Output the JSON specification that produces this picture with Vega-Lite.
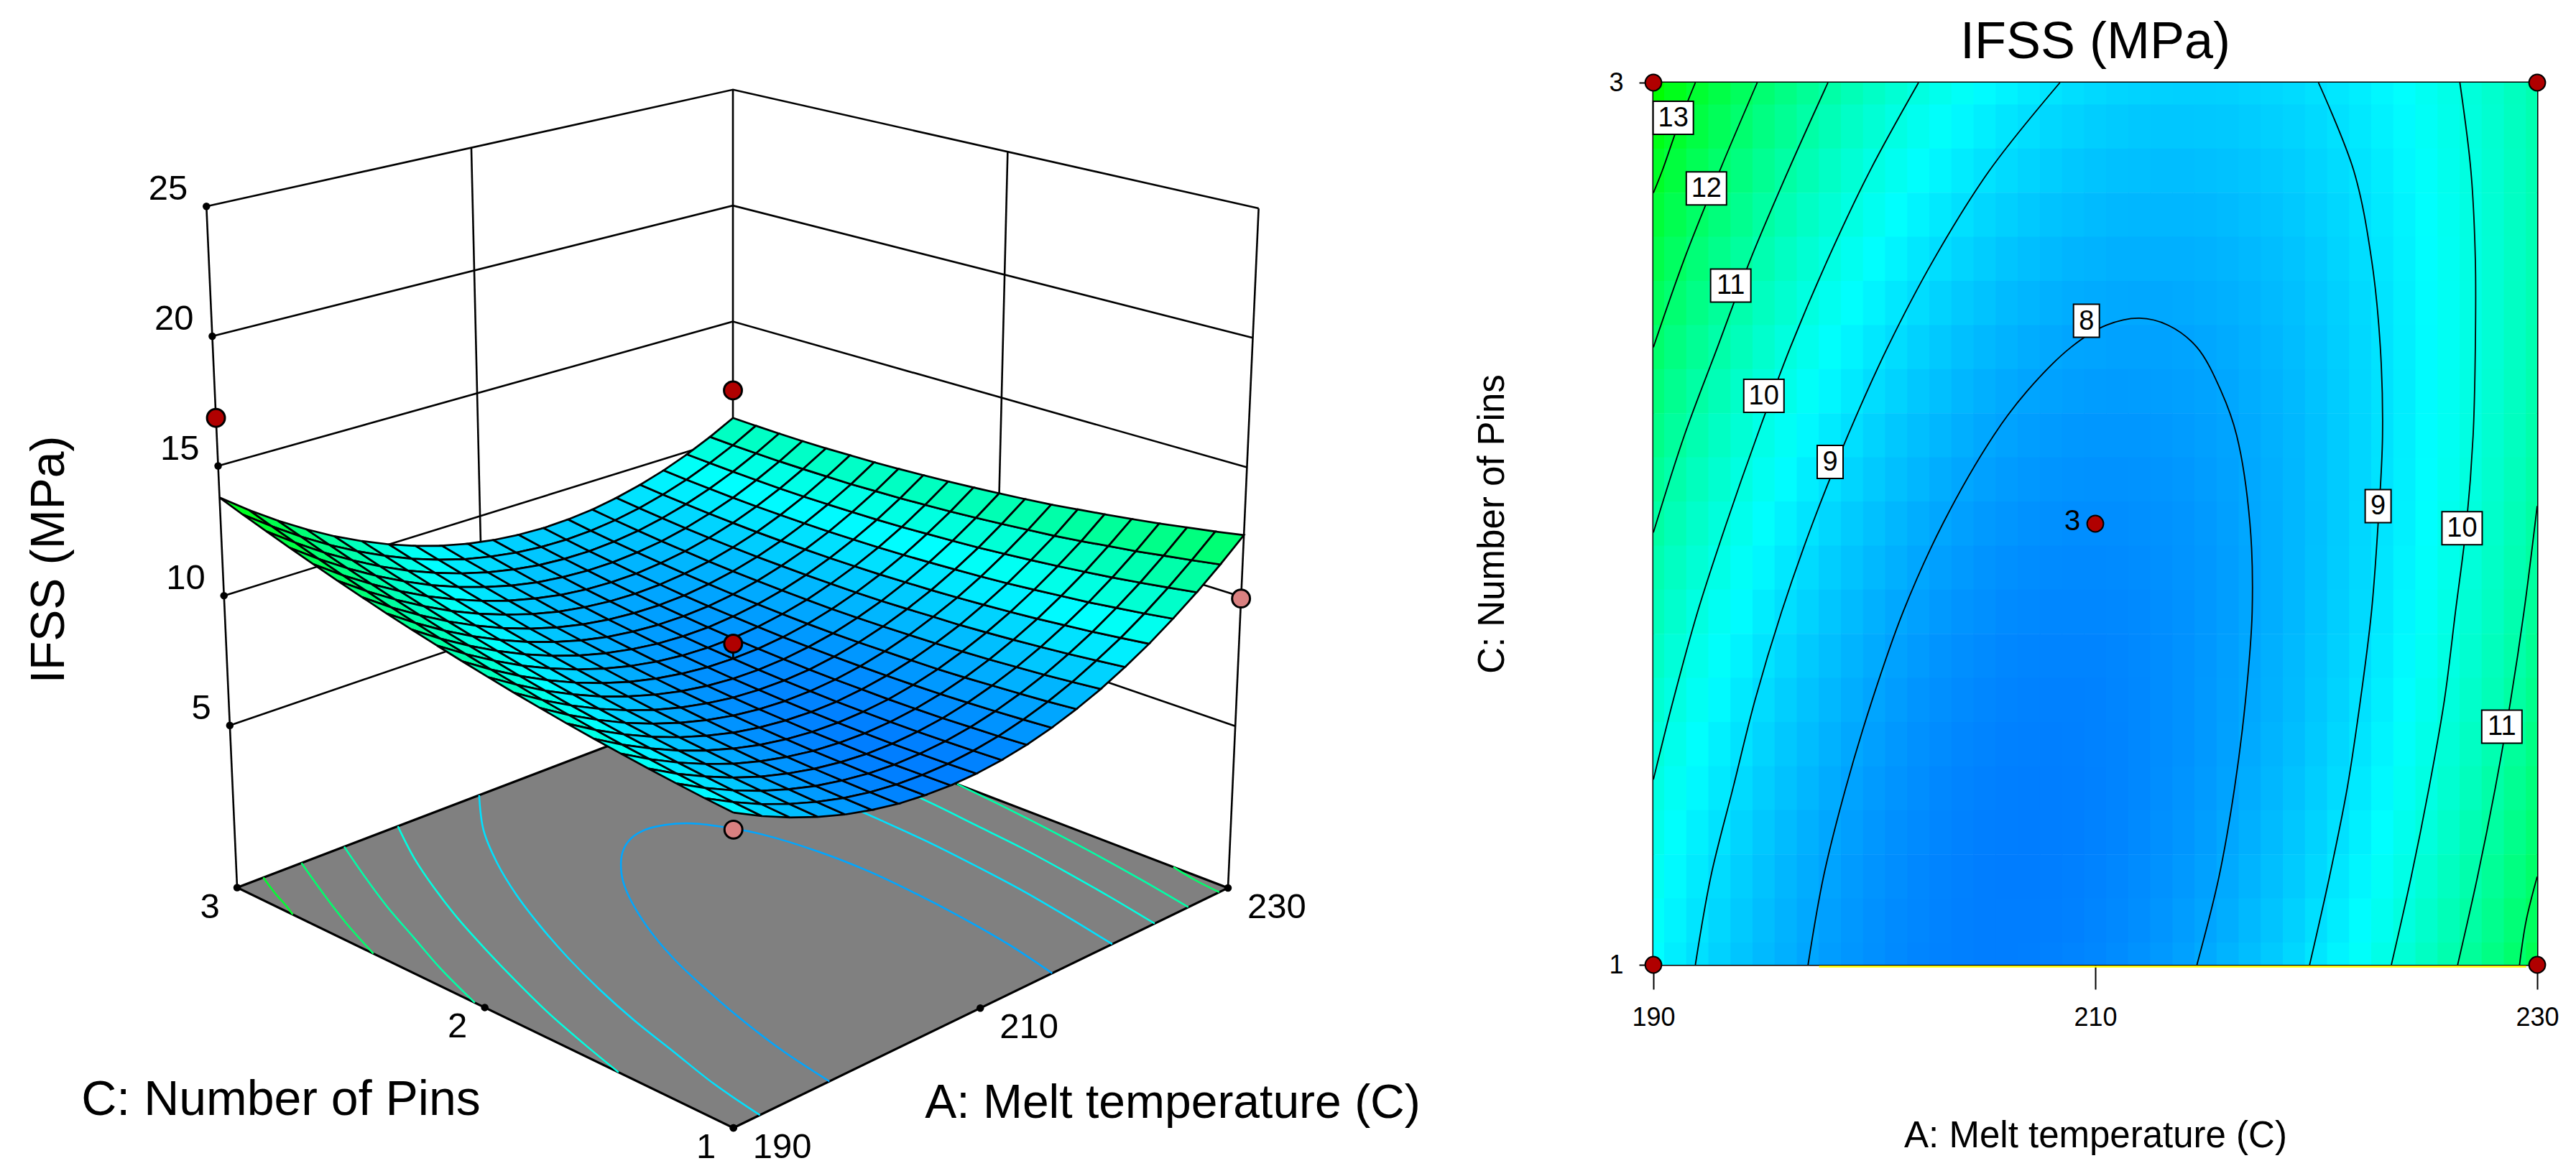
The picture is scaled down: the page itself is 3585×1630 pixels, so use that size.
{"$schema":"https://vega.github.io/schema/vega-lite/v6.json","padding":{"top":21,"left":0,"right":0,"bottom":0},"background":"white","spacing":30,"config":{"font":"Liberation Sans","view":{"stroke":null},"style":{"cell":{"stroke":null}}},
"datasets":{"d":[
{"A":190,"C":3,"z":13.78},{"A":191,"C":3,"z":13.37},{"A":192,"C":3,"z":12.98},{"A":193,"C":3,"z":12.6},{"A":194,"C":3,"z":12.24},{"A":195,"C":3,"z":11.9},{"A":196,"C":3,"z":11.58},{"A":197,"C":3,"z":11.27},{"A":198,"C":3,"z":10.98},{"A":199,"C":3,"z":10.71},{"A":200,"C":3,"z":10.46},{"A":201,"C":3,"z":10.22},{"A":202,"C":3,"z":10},{"A":203,"C":3,"z":9.8},{"A":204,"C":3,"z":9.61},{"A":205,"C":3,"z":9.44},{"A":206,"C":3,"z":9.29},{"A":207,"C":3,"z":9.16},{"A":208,"C":3,"z":9.04},{"A":209,"C":3,"z":8.94},{"A":210,"C":3,"z":8.86},{"A":211,"C":3,"z":8.8},{"A":212,"C":3,"z":8.75},{"A":213,"C":3,"z":8.72},{"A":214,"C":3,"z":8.7},{"A":215,"C":3,"z":8.71},{"A":216,"C":3,"z":8.73},{"A":217,"C":3,"z":8.77},{"A":218,"C":3,"z":8.82},{"A":219,"C":3,"z":8.9},{"A":220,"C":3,"z":8.99},{"A":221,"C":3,"z":9.1},{"A":222,"C":3,"z":9.22},{"A":223,"C":3,"z":9.36},{"A":224,"C":3,"z":9.52},{"A":225,"C":3,"z":9.7},{"A":226,"C":3,"z":9.89},{"A":227,"C":3,"z":10.1},{"A":228,"C":3,"z":10.33},{"A":229,"C":3,"z":10.58},{"A":230,"C":3,"z":10.84},
{"A":190,"C":2.9,"z":13.45},{"A":191,"C":2.9,"z":13.05},{"A":192,"C":2.9,"z":12.67},{"A":193,"C":2.9,"z":12.3},{"A":194,"C":2.9,"z":11.95},{"A":195,"C":2.9,"z":11.61},{"A":196,"C":2.9,"z":11.3},{"A":197,"C":2.9,"z":11},{"A":198,"C":2.9,"z":10.72},{"A":199,"C":2.9,"z":10.45},{"A":200,"C":2.9,"z":10.21},{"A":201,"C":2.9,"z":9.98},{"A":202,"C":2.9,"z":9.76},{"A":203,"C":2.9,"z":9.57},{"A":204,"C":2.9,"z":9.39},{"A":205,"C":2.9,"z":9.23},{"A":206,"C":2.9,"z":9.08},{"A":207,"C":2.9,"z":8.96},{"A":208,"C":2.9,"z":8.85},{"A":209,"C":2.9,"z":8.76},{"A":210,"C":2.9,"z":8.68},{"A":211,"C":2.9,"z":8.62},{"A":212,"C":2.9,"z":8.58},{"A":213,"C":2.9,"z":8.56},{"A":214,"C":2.9,"z":8.55},{"A":215,"C":2.9,"z":8.57},{"A":216,"C":2.9,"z":8.59},{"A":217,"C":2.9,"z":8.64},{"A":218,"C":2.9,"z":8.7},{"A":219,"C":2.9,"z":8.78},{"A":220,"C":2.9,"z":8.88},{"A":221,"C":2.9,"z":9},{"A":222,"C":2.9,"z":9.13},{"A":223,"C":2.9,"z":9.28},{"A":224,"C":2.9,"z":9.44},{"A":225,"C":2.9,"z":9.63},{"A":226,"C":2.9,"z":9.83},{"A":227,"C":2.9,"z":10.05},{"A":228,"C":2.9,"z":10.28},{"A":229,"C":2.9,"z":10.54},{"A":230,"C":2.9,"z":10.81},
{"A":190,"C":2.8,"z":13.14},{"A":191,"C":2.8,"z":12.75},{"A":192,"C":2.8,"z":12.37},{"A":193,"C":2.8,"z":12.01},{"A":194,"C":2.8,"z":11.66},{"A":195,"C":2.8,"z":11.34},{"A":196,"C":2.8,"z":11.03},{"A":197,"C":2.8,"z":10.74},{"A":198,"C":2.8,"z":10.46},{"A":199,"C":2.8,"z":10.2},{"A":200,"C":2.8,"z":9.96},{"A":201,"C":2.8,"z":9.74},{"A":202,"C":2.8,"z":9.54},{"A":203,"C":2.8,"z":9.35},{"A":204,"C":2.8,"z":9.18},{"A":205,"C":2.8,"z":9.02},{"A":206,"C":2.8,"z":8.89},{"A":207,"C":2.8,"z":8.77},{"A":208,"C":2.8,"z":8.67},{"A":209,"C":2.8,"z":8.58},{"A":210,"C":2.8,"z":8.51},{"A":211,"C":2.8,"z":8.46},{"A":212,"C":2.8,"z":8.43},{"A":213,"C":2.8,"z":8.41},{"A":214,"C":2.8,"z":8.41},{"A":215,"C":2.8,"z":8.43},{"A":216,"C":2.8,"z":8.47},{"A":217,"C":2.8,"z":8.52},{"A":218,"C":2.8,"z":8.59},{"A":219,"C":2.8,"z":8.68},{"A":220,"C":2.8,"z":8.79},{"A":221,"C":2.8,"z":8.91},{"A":222,"C":2.8,"z":9.05},{"A":223,"C":2.8,"z":9.2},{"A":224,"C":2.8,"z":9.38},{"A":225,"C":2.8,"z":9.57},{"A":226,"C":2.8,"z":9.78},{"A":227,"C":2.8,"z":10},{"A":228,"C":2.8,"z":10.25},{"A":229,"C":2.8,"z":10.51},{"A":230,"C":2.8,"z":10.78},
{"A":190,"C":2.7,"z":12.84},{"A":191,"C":2.7,"z":12.45},{"A":192,"C":2.7,"z":12.08},{"A":193,"C":2.7,"z":11.73},{"A":194,"C":2.7,"z":11.39},{"A":195,"C":2.7,"z":11.07},{"A":196,"C":2.7,"z":10.77},{"A":197,"C":2.7,"z":10.48},{"A":198,"C":2.7,"z":10.22},{"A":199,"C":2.7,"z":9.97},{"A":200,"C":2.7,"z":9.73},{"A":201,"C":2.7,"z":9.52},{"A":202,"C":2.7,"z":9.32},{"A":203,"C":2.7,"z":9.14},{"A":204,"C":2.7,"z":8.98},{"A":205,"C":2.7,"z":8.83},{"A":206,"C":2.7,"z":8.7},{"A":207,"C":2.7,"z":8.59},{"A":208,"C":2.7,"z":8.49},{"A":209,"C":2.7,"z":8.42},{"A":210,"C":2.7,"z":8.36},{"A":211,"C":2.7,"z":8.31},{"A":212,"C":2.7,"z":8.29},{"A":213,"C":2.7,"z":8.28},{"A":214,"C":2.7,"z":8.29},{"A":215,"C":2.7,"z":8.31},{"A":216,"C":2.7,"z":8.36},{"A":217,"C":2.7,"z":8.42},{"A":218,"C":2.7,"z":8.49},{"A":219,"C":2.7,"z":8.59},{"A":220,"C":2.7,"z":8.7},{"A":221,"C":2.7,"z":8.83},{"A":222,"C":2.7,"z":8.98},{"A":223,"C":2.7,"z":9.14},{"A":224,"C":2.7,"z":9.32},{"A":225,"C":2.7,"z":9.52},{"A":226,"C":2.7,"z":9.74},{"A":227,"C":2.7,"z":9.97},{"A":228,"C":2.7,"z":10.22},{"A":229,"C":2.7,"z":10.49},{"A":230,"C":2.7,"z":10.77},
{"A":190,"C":2.6,"z":12.55},{"A":191,"C":2.6,"z":12.16},{"A":192,"C":2.6,"z":11.8},{"A":193,"C":2.6,"z":11.46},{"A":194,"C":2.6,"z":11.13},{"A":195,"C":2.6,"z":10.82},{"A":196,"C":2.6,"z":10.52},{"A":197,"C":2.6,"z":10.24},{"A":198,"C":2.6,"z":9.98},{"A":199,"C":2.6,"z":9.74},{"A":200,"C":2.6,"z":9.52},{"A":201,"C":2.6,"z":9.31},{"A":202,"C":2.6,"z":9.12},{"A":203,"C":2.6,"z":8.94},{"A":204,"C":2.6,"z":8.79},{"A":205,"C":2.6,"z":8.65},{"A":206,"C":2.6,"z":8.53},{"A":207,"C":2.6,"z":8.42},{"A":208,"C":2.6,"z":8.33},{"A":209,"C":2.6,"z":8.26},{"A":210,"C":2.6,"z":8.21},{"A":211,"C":2.6,"z":8.17},{"A":212,"C":2.6,"z":8.16},{"A":213,"C":2.6,"z":8.16},{"A":214,"C":2.6,"z":8.17},{"A":215,"C":2.6,"z":8.2},{"A":216,"C":2.6,"z":8.26},{"A":217,"C":2.6,"z":8.32},{"A":218,"C":2.6,"z":8.41},{"A":219,"C":2.6,"z":8.51},{"A":220,"C":2.6,"z":8.63},{"A":221,"C":2.6,"z":8.77},{"A":222,"C":2.6,"z":8.92},{"A":223,"C":2.6,"z":9.09},{"A":224,"C":2.6,"z":9.28},{"A":225,"C":2.6,"z":9.49},{"A":226,"C":2.6,"z":9.71},{"A":227,"C":2.6,"z":9.95},{"A":228,"C":2.6,"z":10.21},{"A":229,"C":2.6,"z":10.48},{"A":230,"C":2.6,"z":10.77},
{"A":190,"C":2.5,"z":12.27},{"A":191,"C":2.5,"z":11.89},{"A":192,"C":2.5,"z":11.54},{"A":193,"C":2.5,"z":11.2},{"A":194,"C":2.5,"z":10.88},{"A":195,"C":2.5,"z":10.57},{"A":196,"C":2.5,"z":10.29},{"A":197,"C":2.5,"z":10.02},{"A":198,"C":2.5,"z":9.76},{"A":199,"C":2.5,"z":9.53},{"A":200,"C":2.5,"z":9.31},{"A":201,"C":2.5,"z":9.11},{"A":202,"C":2.5,"z":8.93},{"A":203,"C":2.5,"z":8.76},{"A":204,"C":2.5,"z":8.61},{"A":205,"C":2.5,"z":8.48},{"A":206,"C":2.5,"z":8.36},{"A":207,"C":2.5,"z":8.27},{"A":208,"C":2.5,"z":8.19},{"A":209,"C":2.5,"z":8.12},{"A":210,"C":2.5,"z":8.08},{"A":211,"C":2.5,"z":8.05},{"A":212,"C":2.5,"z":8.04},{"A":213,"C":2.5,"z":8.04},{"A":214,"C":2.5,"z":8.07},{"A":215,"C":2.5,"z":8.11},{"A":216,"C":2.5,"z":8.17},{"A":217,"C":2.5,"z":8.24},{"A":218,"C":2.5,"z":8.33},{"A":219,"C":2.5,"z":8.44},{"A":220,"C":2.5,"z":8.57},{"A":221,"C":2.5,"z":8.71},{"A":222,"C":2.5,"z":8.87},{"A":223,"C":2.5,"z":9.05},{"A":224,"C":2.5,"z":9.25},{"A":225,"C":2.5,"z":9.46},{"A":226,"C":2.5,"z":9.69},{"A":227,"C":2.5,"z":9.94},{"A":228,"C":2.5,"z":10.21},{"A":229,"C":2.5,"z":10.49},{"A":230,"C":2.5,"z":10.79},
{"A":190,"C":2.4,"z":12},{"A":191,"C":2.4,"z":11.63},{"A":192,"C":2.4,"z":11.28},{"A":193,"C":2.4,"z":10.95},{"A":194,"C":2.4,"z":10.64},{"A":195,"C":2.4,"z":10.34},{"A":196,"C":2.4,"z":10.06},{"A":197,"C":2.4,"z":9.8},{"A":198,"C":2.4,"z":9.55},{"A":199,"C":2.4,"z":9.32},{"A":200,"C":2.4,"z":9.11},{"A":201,"C":2.4,"z":8.92},{"A":202,"C":2.4,"z":8.74},{"A":203,"C":2.4,"z":8.59},{"A":204,"C":2.4,"z":8.44},{"A":205,"C":2.4,"z":8.32},{"A":206,"C":2.4,"z":8.21},{"A":207,"C":2.4,"z":8.12},{"A":208,"C":2.4,"z":8.05},{"A":209,"C":2.4,"z":7.99},{"A":210,"C":2.4,"z":7.96},{"A":211,"C":2.4,"z":7.93},{"A":212,"C":2.4,"z":7.93},{"A":213,"C":2.4,"z":7.94},{"A":214,"C":2.4,"z":7.97},{"A":215,"C":2.4,"z":8.02},{"A":216,"C":2.4,"z":8.09},{"A":217,"C":2.4,"z":8.17},{"A":218,"C":2.4,"z":8.27},{"A":219,"C":2.4,"z":8.39},{"A":220,"C":2.4,"z":8.52},{"A":221,"C":2.4,"z":8.67},{"A":222,"C":2.4,"z":8.84},{"A":223,"C":2.4,"z":9.03},{"A":224,"C":2.4,"z":9.23},{"A":225,"C":2.4,"z":9.45},{"A":226,"C":2.4,"z":9.69},{"A":227,"C":2.4,"z":9.94},{"A":228,"C":2.4,"z":10.21},{"A":229,"C":2.4,"z":10.5},{"A":230,"C":2.4,"z":10.81},
{"A":190,"C":2.3,"z":11.74},{"A":191,"C":2.3,"z":11.38},{"A":192,"C":2.3,"z":11.04},{"A":193,"C":2.3,"z":10.72},{"A":194,"C":2.3,"z":10.41},{"A":195,"C":2.3,"z":10.12},{"A":196,"C":2.3,"z":9.85},{"A":197,"C":2.3,"z":9.6},{"A":198,"C":2.3,"z":9.36},{"A":199,"C":2.3,"z":9.14},{"A":200,"C":2.3,"z":8.93},{"A":201,"C":2.3,"z":8.75},{"A":202,"C":2.3,"z":8.58},{"A":203,"C":2.3,"z":8.43},{"A":204,"C":2.3,"z":8.29},{"A":205,"C":2.3,"z":8.17},{"A":206,"C":2.3,"z":8.07},{"A":207,"C":2.3,"z":7.99},{"A":208,"C":2.3,"z":7.93},{"A":209,"C":2.3,"z":7.88},{"A":210,"C":2.3,"z":7.85},{"A":211,"C":2.3,"z":7.83},{"A":212,"C":2.3,"z":7.84},{"A":213,"C":2.3,"z":7.86},{"A":214,"C":2.3,"z":7.89},{"A":215,"C":2.3,"z":7.95},{"A":216,"C":2.3,"z":8.02},{"A":217,"C":2.3,"z":8.11},{"A":218,"C":2.3,"z":8.22},{"A":219,"C":2.3,"z":8.34},{"A":220,"C":2.3,"z":8.49},{"A":221,"C":2.3,"z":8.64},{"A":222,"C":2.3,"z":8.82},{"A":223,"C":2.3,"z":9.01},{"A":224,"C":2.3,"z":9.22},{"A":225,"C":2.3,"z":9.45},{"A":226,"C":2.3,"z":9.7},{"A":227,"C":2.3,"z":9.96},{"A":228,"C":2.3,"z":10.24},{"A":229,"C":2.3,"z":10.53},{"A":230,"C":2.3,"z":10.85},
{"A":190,"C":2.2,"z":11.5},{"A":191,"C":2.2,"z":11.15},{"A":192,"C":2.2,"z":10.81},{"A":193,"C":2.2,"z":10.5},{"A":194,"C":2.2,"z":10.2},{"A":195,"C":2.2,"z":9.91},{"A":196,"C":2.2,"z":9.65},{"A":197,"C":2.2,"z":9.4},{"A":198,"C":2.2,"z":9.17},{"A":199,"C":2.2,"z":8.96},{"A":200,"C":2.2,"z":8.76},{"A":201,"C":2.2,"z":8.58},{"A":202,"C":2.2,"z":8.42},{"A":203,"C":2.2,"z":8.28},{"A":204,"C":2.2,"z":8.15},{"A":205,"C":2.2,"z":8.04},{"A":206,"C":2.2,"z":7.95},{"A":207,"C":2.2,"z":7.87},{"A":208,"C":2.2,"z":7.81},{"A":209,"C":2.2,"z":7.77},{"A":210,"C":2.2,"z":7.75},{"A":211,"C":2.2,"z":7.74},{"A":212,"C":2.2,"z":7.75},{"A":213,"C":2.2,"z":7.78},{"A":214,"C":2.2,"z":7.83},{"A":215,"C":2.2,"z":7.89},{"A":216,"C":2.2,"z":7.97},{"A":217,"C":2.2,"z":8.07},{"A":218,"C":2.2,"z":8.18},{"A":219,"C":2.2,"z":8.31},{"A":220,"C":2.2,"z":8.46},{"A":221,"C":2.2,"z":8.62},{"A":222,"C":2.2,"z":8.81},{"A":223,"C":2.2,"z":9.01},{"A":224,"C":2.2,"z":9.23},{"A":225,"C":2.2,"z":9.46},{"A":226,"C":2.2,"z":9.71},{"A":227,"C":2.2,"z":9.98},{"A":228,"C":2.2,"z":10.27},{"A":229,"C":2.2,"z":10.57},{"A":230,"C":2.2,"z":10.9},
{"A":190,"C":2.1,"z":11.27},{"A":191,"C":2.1,"z":10.92},{"A":192,"C":2.1,"z":10.6},{"A":193,"C":2.1,"z":10.29},{"A":194,"C":2.1,"z":10},{"A":195,"C":2.1,"z":9.72},{"A":196,"C":2.1,"z":9.46},{"A":197,"C":2.1,"z":9.22},{"A":198,"C":2.1,"z":9},{"A":199,"C":2.1,"z":8.79},{"A":200,"C":2.1,"z":8.6},{"A":201,"C":2.1,"z":8.43},{"A":202,"C":2.1,"z":8.28},{"A":203,"C":2.1,"z":8.14},{"A":204,"C":2.1,"z":8.02},{"A":205,"C":2.1,"z":7.92},{"A":206,"C":2.1,"z":7.83},{"A":207,"C":2.1,"z":7.76},{"A":208,"C":2.1,"z":7.71},{"A":209,"C":2.1,"z":7.68},{"A":210,"C":2.1,"z":7.66},{"A":211,"C":2.1,"z":7.66},{"A":212,"C":2.1,"z":7.68},{"A":213,"C":2.1,"z":7.72},{"A":214,"C":2.1,"z":7.77},{"A":215,"C":2.1,"z":7.84},{"A":216,"C":2.1,"z":7.93},{"A":217,"C":2.1,"z":8.03},{"A":218,"C":2.1,"z":8.15},{"A":219,"C":2.1,"z":8.29},{"A":220,"C":2.1,"z":8.45},{"A":221,"C":2.1,"z":8.62},{"A":222,"C":2.1,"z":8.81},{"A":223,"C":2.1,"z":9.02},{"A":224,"C":2.1,"z":9.24},{"A":225,"C":2.1,"z":9.49},{"A":226,"C":2.1,"z":9.74},{"A":227,"C":2.1,"z":10.02},{"A":228,"C":2.1,"z":10.32},{"A":229,"C":2.1,"z":10.63},{"A":230,"C":2.1,"z":10.96},
{"A":190,"C":2,"z":11.05},{"A":191,"C":2,"z":10.71},{"A":192,"C":2,"z":10.39},{"A":193,"C":2,"z":10.09},{"A":194,"C":2,"z":9.8},{"A":195,"C":2,"z":9.53},{"A":196,"C":2,"z":9.28},{"A":197,"C":2,"z":9.05},{"A":198,"C":2,"z":8.83},{"A":199,"C":2,"z":8.63},{"A":200,"C":2,"z":8.45},{"A":201,"C":2,"z":8.29},{"A":202,"C":2,"z":8.14},{"A":203,"C":2,"z":8.01},{"A":204,"C":2,"z":7.9},{"A":205,"C":2,"z":7.8},{"A":206,"C":2,"z":7.73},{"A":207,"C":2,"z":7.67},{"A":208,"C":2,"z":7.62},{"A":209,"C":2,"z":7.6},{"A":210,"C":2,"z":7.59},{"A":211,"C":2,"z":7.59},{"A":212,"C":2,"z":7.62},{"A":213,"C":2,"z":7.66},{"A":214,"C":2,"z":7.72},{"A":215,"C":2,"z":7.8},{"A":216,"C":2,"z":7.89},{"A":217,"C":2,"z":8.01},{"A":218,"C":2,"z":8.13},{"A":219,"C":2,"z":8.28},{"A":220,"C":2,"z":8.44},{"A":221,"C":2,"z":8.62},{"A":222,"C":2,"z":8.82},{"A":223,"C":2,"z":9.04},{"A":224,"C":2,"z":9.27},{"A":225,"C":2,"z":9.52},{"A":226,"C":2,"z":9.79},{"A":227,"C":2,"z":10.07},{"A":228,"C":2,"z":10.37},{"A":229,"C":2,"z":10.69},{"A":230,"C":2,"z":11.03},
{"A":190,"C":1.9,"z":10.84},{"A":191,"C":1.9,"z":10.51},{"A":192,"C":1.9,"z":10.2},{"A":193,"C":1.9,"z":9.9},{"A":194,"C":1.9,"z":9.62},{"A":195,"C":1.9,"z":9.36},{"A":196,"C":1.9,"z":9.12},{"A":197,"C":1.9,"z":8.89},{"A":198,"C":1.9,"z":8.68},{"A":199,"C":1.9,"z":8.49},{"A":200,"C":1.9,"z":8.32},{"A":201,"C":1.9,"z":8.16},{"A":202,"C":1.9,"z":8.02},{"A":203,"C":1.9,"z":7.9},{"A":204,"C":1.9,"z":7.79},{"A":205,"C":1.9,"z":7.7},{"A":206,"C":1.9,"z":7.63},{"A":207,"C":1.9,"z":7.58},{"A":208,"C":1.9,"z":7.54},{"A":209,"C":1.9,"z":7.53},{"A":210,"C":1.9,"z":7.52},{"A":211,"C":1.9,"z":7.54},{"A":212,"C":1.9,"z":7.57},{"A":213,"C":1.9,"z":7.62},{"A":214,"C":1.9,"z":7.69},{"A":215,"C":1.9,"z":7.77},{"A":216,"C":1.9,"z":7.87},{"A":217,"C":1.9,"z":7.99},{"A":218,"C":1.9,"z":8.13},{"A":219,"C":1.9,"z":8.28},{"A":220,"C":1.9,"z":8.45},{"A":221,"C":1.9,"z":8.64},{"A":222,"C":1.9,"z":8.85},{"A":223,"C":1.9,"z":9.07},{"A":224,"C":1.9,"z":9.31},{"A":225,"C":1.9,"z":9.57},{"A":226,"C":1.9,"z":9.84},{"A":227,"C":1.9,"z":10.13},{"A":228,"C":1.9,"z":10.44},{"A":229,"C":1.9,"z":10.77},{"A":230,"C":1.9,"z":11.11},
{"A":190,"C":1.8,"z":10.64},{"A":191,"C":1.8,"z":10.32},{"A":192,"C":1.8,"z":10.01},{"A":193,"C":1.8,"z":9.71},{"A":194,"C":1.8,"z":9.45},{"A":195,"C":1.8,"z":9.2},{"A":196,"C":1.8,"z":8.96},{"A":197,"C":1.8,"z":8.75},{"A":198,"C":1.8,"z":8.54},{"A":199,"C":1.8,"z":8.36},{"A":200,"C":1.8,"z":8.19},{"A":201,"C":1.8,"z":8.04},{"A":202,"C":1.8,"z":7.91},{"A":203,"C":1.8,"z":7.79},{"A":204,"C":1.8,"z":7.7},{"A":205,"C":1.8,"z":7.62},{"A":206,"C":1.8,"z":7.55},{"A":207,"C":1.8,"z":7.51},{"A":208,"C":1.8,"z":7.48},{"A":209,"C":1.8,"z":7.47},{"A":210,"C":1.8,"z":7.47},{"A":211,"C":1.8,"z":7.49},{"A":212,"C":1.8,"z":7.53},{"A":213,"C":1.8,"z":7.59},{"A":214,"C":1.8,"z":7.67},{"A":215,"C":1.8,"z":7.76},{"A":216,"C":1.8,"z":7.87},{"A":217,"C":1.8,"z":8},{"A":218,"C":1.8,"z":8.14},{"A":219,"C":1.8,"z":8.3},{"A":220,"C":1.8,"z":8.48},{"A":221,"C":1.8,"z":8.67},{"A":222,"C":1.8,"z":8.88},{"A":223,"C":1.8,"z":9.11},{"A":224,"C":1.8,"z":9.36},{"A":225,"C":1.8,"z":9.62},{"A":226,"C":1.8,"z":9.9},{"A":227,"C":1.8,"z":10.2},{"A":228,"C":1.8,"z":10.52},{"A":229,"C":1.8,"z":10.85},{"A":230,"C":1.8,"z":11.2},
{"A":190,"C":1.7,"z":10.46},{"A":191,"C":1.7,"z":10.14},{"A":192,"C":1.7,"z":9.84},{"A":193,"C":1.7,"z":9.56},{"A":194,"C":1.7,"z":9.3},{"A":195,"C":1.7,"z":9.05},{"A":196,"C":1.7,"z":8.82},{"A":197,"C":1.7,"z":8.61},{"A":198,"C":1.7,"z":8.42},{"A":199,"C":1.7,"z":8.24},{"A":200,"C":1.7,"z":8.08},{"A":201,"C":1.7,"z":7.94},{"A":202,"C":1.7,"z":7.81},{"A":203,"C":1.7,"z":7.7},{"A":204,"C":1.7,"z":7.61},{"A":205,"C":1.7,"z":7.54},{"A":206,"C":1.7,"z":7.48},{"A":207,"C":1.7,"z":7.45},{"A":208,"C":1.7,"z":7.42},{"A":209,"C":1.7,"z":7.42},{"A":210,"C":1.7,"z":7.43},{"A":211,"C":1.7,"z":7.46},{"A":212,"C":1.7,"z":7.51},{"A":213,"C":1.7,"z":7.58},{"A":214,"C":1.7,"z":7.66},{"A":215,"C":1.7,"z":7.76},{"A":216,"C":1.7,"z":7.88},{"A":217,"C":1.7,"z":8.01},{"A":218,"C":1.7,"z":8.16},{"A":219,"C":1.7,"z":8.33},{"A":220,"C":1.7,"z":8.52},{"A":221,"C":1.7,"z":8.71},{"A":222,"C":1.7,"z":8.93},{"A":223,"C":1.7,"z":9.17},{"A":224,"C":1.7,"z":9.42},{"A":225,"C":1.7,"z":9.69},{"A":226,"C":1.7,"z":9.98},{"A":227,"C":1.7,"z":10.28},{"A":228,"C":1.7,"z":10.61},{"A":229,"C":1.7,"z":10.94},{"A":230,"C":1.7,"z":11.3},
{"A":190,"C":1.6,"z":10.28},{"A":191,"C":1.6,"z":9.97},{"A":192,"C":1.6,"z":9.68},{"A":193,"C":1.6,"z":9.41},{"A":194,"C":1.6,"z":9.15},{"A":195,"C":1.6,"z":8.91},{"A":196,"C":1.6,"z":8.69},{"A":197,"C":1.6,"z":8.49},{"A":198,"C":1.6,"z":8.3},{"A":199,"C":1.6,"z":8.13},{"A":200,"C":1.6,"z":7.98},{"A":201,"C":1.6,"z":7.84},{"A":202,"C":1.6,"z":7.72},{"A":203,"C":1.6,"z":7.63},{"A":204,"C":1.6,"z":7.54},{"A":205,"C":1.6,"z":7.48},{"A":206,"C":1.6,"z":7.43},{"A":207,"C":1.6,"z":7.39},{"A":208,"C":1.6,"z":7.38},{"A":209,"C":1.6,"z":7.38},{"A":210,"C":1.6,"z":7.4},{"A":211,"C":1.6,"z":7.44},{"A":212,"C":1.6,"z":7.5},{"A":213,"C":1.6,"z":7.57},{"A":214,"C":1.6,"z":7.66},{"A":215,"C":1.6,"z":7.78},{"A":216,"C":1.6,"z":7.89},{"A":217,"C":1.6,"z":8.03},{"A":218,"C":1.6,"z":8.19},{"A":219,"C":1.6,"z":8.36},{"A":220,"C":1.6,"z":8.55},{"A":221,"C":1.6,"z":8.76},{"A":222,"C":1.6,"z":8.99},{"A":223,"C":1.6,"z":9.23},{"A":224,"C":1.6,"z":9.49},{"A":225,"C":1.6,"z":9.77},{"A":226,"C":1.6,"z":10.07},{"A":227,"C":1.6,"z":10.38},{"A":228,"C":1.6,"z":10.7},{"A":229,"C":1.6,"z":11.05},{"A":230,"C":1.6,"z":11.43},
{"A":190,"C":1.5,"z":10.12},{"A":191,"C":1.5,"z":9.82},{"A":192,"C":1.5,"z":9.53},{"A":193,"C":1.5,"z":9.27},{"A":194,"C":1.5,"z":9.02},{"A":195,"C":1.5,"z":8.79},{"A":196,"C":1.5,"z":8.57},{"A":197,"C":1.5,"z":8.38},{"A":198,"C":1.5,"z":8.2},{"A":199,"C":1.5,"z":8.04},{"A":200,"C":1.5,"z":7.89},{"A":201,"C":1.5,"z":7.76},{"A":202,"C":1.5,"z":7.65},{"A":203,"C":1.5,"z":7.56},{"A":204,"C":1.5,"z":7.48},{"A":205,"C":1.5,"z":7.42},{"A":206,"C":1.5,"z":7.38},{"A":207,"C":1.5,"z":7.36},{"A":208,"C":1.5,"z":7.35},{"A":209,"C":1.5,"z":7.36},{"A":210,"C":1.5,"z":7.39},{"A":211,"C":1.5,"z":7.43},{"A":212,"C":1.5,"z":7.49},{"A":213,"C":1.5,"z":7.57},{"A":214,"C":1.5,"z":7.67},{"A":215,"C":1.5,"z":7.78},{"A":216,"C":1.5,"z":7.91},{"A":217,"C":1.5,"z":8.06},{"A":218,"C":1.5,"z":8.23},{"A":219,"C":1.5,"z":8.41},{"A":220,"C":1.5,"z":8.61},{"A":221,"C":1.5,"z":8.83},{"A":222,"C":1.5,"z":9.06},{"A":223,"C":1.5,"z":9.31},{"A":224,"C":1.5,"z":9.58},{"A":225,"C":1.5,"z":9.87},{"A":226,"C":1.5,"z":10.17},{"A":227,"C":1.5,"z":10.49},{"A":228,"C":1.5,"z":10.82},{"A":229,"C":1.5,"z":11.18},{"A":230,"C":1.5,"z":11.56},
{"A":190,"C":1.4,"z":9.97},{"A":191,"C":1.4,"z":9.67},{"A":192,"C":1.4,"z":9.4},{"A":193,"C":1.4,"z":9.14},{"A":194,"C":1.4,"z":8.9},{"A":195,"C":1.4,"z":8.67},{"A":196,"C":1.4,"z":8.47},{"A":197,"C":1.4,"z":8.28},{"A":198,"C":1.4,"z":8.1},{"A":199,"C":1.4,"z":7.95},{"A":200,"C":1.4,"z":7.81},{"A":201,"C":1.4,"z":7.69},{"A":202,"C":1.4,"z":7.59},{"A":203,"C":1.4,"z":7.5},{"A":204,"C":1.4,"z":7.43},{"A":205,"C":1.4,"z":7.38},{"A":206,"C":1.4,"z":7.35},{"A":207,"C":1.4,"z":7.33},{"A":208,"C":1.4,"z":7.33},{"A":209,"C":1.4,"z":7.35},{"A":210,"C":1.4,"z":7.38},{"A":211,"C":1.4,"z":7.43},{"A":212,"C":1.4,"z":7.5},{"A":213,"C":1.4,"z":7.59},{"A":214,"C":1.4,"z":7.69},{"A":215,"C":1.4,"z":7.82},{"A":216,"C":1.4,"z":7.95},{"A":217,"C":1.4,"z":8.11},{"A":218,"C":1.4,"z":8.28},{"A":219,"C":1.4,"z":8.47},{"A":220,"C":1.4,"z":8.68},{"A":221,"C":1.4,"z":8.9},{"A":222,"C":1.4,"z":9.14},{"A":223,"C":1.4,"z":9.4},{"A":224,"C":1.4,"z":9.68},{"A":225,"C":1.4,"z":9.97},{"A":226,"C":1.4,"z":10.28},{"A":227,"C":1.4,"z":10.61},{"A":228,"C":1.4,"z":10.96},{"A":229,"C":1.4,"z":11.32},{"A":230,"C":1.4,"z":11.7},
{"A":190,"C":1.3,"z":9.83},{"A":191,"C":1.3,"z":9.54},{"A":192,"C":1.3,"z":9.27},{"A":193,"C":1.3,"z":9.02},{"A":194,"C":1.3,"z":8.79},{"A":195,"C":1.3,"z":8.57},{"A":196,"C":1.3,"z":8.37},{"A":197,"C":1.3,"z":8.19},{"A":198,"C":1.3,"z":8.02},{"A":199,"C":1.3,"z":7.88},{"A":200,"C":1.3,"z":7.75},{"A":201,"C":1.3,"z":7.63},{"A":202,"C":1.3,"z":7.54},{"A":203,"C":1.3,"z":7.46},{"A":204,"C":1.3,"z":7.4},{"A":205,"C":1.3,"z":7.35},{"A":206,"C":1.3,"z":7.32},{"A":207,"C":1.3,"z":7.31},{"A":208,"C":1.3,"z":7.32},{"A":209,"C":1.3,"z":7.35},{"A":210,"C":1.3,"z":7.39},{"A":211,"C":1.3,"z":7.45},{"A":212,"C":1.3,"z":7.52},{"A":213,"C":1.3,"z":7.62},{"A":214,"C":1.3,"z":7.73},{"A":215,"C":1.3,"z":7.86},{"A":216,"C":1.3,"z":8.01},{"A":217,"C":1.3,"z":8.17},{"A":218,"C":1.3,"z":8.35},{"A":219,"C":1.3,"z":8.55},{"A":220,"C":1.3,"z":8.76},{"A":221,"C":1.3,"z":8.99},{"A":222,"C":1.3,"z":9.24},{"A":223,"C":1.3,"z":9.5},{"A":224,"C":1.3,"z":9.78},{"A":225,"C":1.3,"z":10.08},{"A":226,"C":1.3,"z":10.4},{"A":227,"C":1.3,"z":10.74},{"A":228,"C":1.3,"z":11.09},{"A":229,"C":1.3,"z":11.46},{"A":230,"C":1.3,"z":11.85},
{"A":190,"C":1.2,"z":9.7},{"A":191,"C":1.2,"z":9.42},{"A":192,"C":1.2,"z":9.16},{"A":193,"C":1.2,"z":8.91},{"A":194,"C":1.2,"z":8.69},{"A":195,"C":1.2,"z":8.48},{"A":196,"C":1.2,"z":8.29},{"A":197,"C":1.2,"z":8.11},{"A":198,"C":1.2,"z":7.96},{"A":199,"C":1.2,"z":7.82},{"A":200,"C":1.2,"z":7.69},{"A":201,"C":1.2,"z":7.59},{"A":202,"C":1.2,"z":7.5},{"A":203,"C":1.2,"z":7.43},{"A":204,"C":1.2,"z":7.37},{"A":205,"C":1.2,"z":7.33},{"A":206,"C":1.2,"z":7.31},{"A":207,"C":1.2,"z":7.31},{"A":208,"C":1.2,"z":7.33},{"A":209,"C":1.2,"z":7.36},{"A":210,"C":1.2,"z":7.41},{"A":211,"C":1.2,"z":7.48},{"A":212,"C":1.2,"z":7.56},{"A":213,"C":1.2,"z":7.66},{"A":214,"C":1.2,"z":7.78},{"A":215,"C":1.2,"z":7.91},{"A":216,"C":1.2,"z":8.07},{"A":217,"C":1.2,"z":8.24},{"A":218,"C":1.2,"z":8.42},{"A":219,"C":1.2,"z":8.63},{"A":220,"C":1.2,"z":8.85},{"A":221,"C":1.2,"z":9.09},{"A":222,"C":1.2,"z":9.34},{"A":223,"C":1.2,"z":9.62},{"A":224,"C":1.2,"z":9.91},{"A":225,"C":1.2,"z":10.22},{"A":226,"C":1.2,"z":10.54},{"A":227,"C":1.2,"z":10.89},{"A":228,"C":1.2,"z":11.25},{"A":229,"C":1.2,"z":11.62},{"A":230,"C":1.2,"z":12.02},
{"A":190,"C":1.1,"z":9.58},{"A":191,"C":1.1,"z":9.31},{"A":192,"C":1.1,"z":9.06},{"A":193,"C":1.1,"z":8.82},{"A":194,"C":1.1,"z":8.6},{"A":195,"C":1.1,"z":8.4},{"A":196,"C":1.1,"z":8.22},{"A":197,"C":1.1,"z":8.05},{"A":198,"C":1.1,"z":7.9},{"A":199,"C":1.1,"z":7.76},{"A":200,"C":1.1,"z":7.65},{"A":201,"C":1.1,"z":7.55},{"A":202,"C":1.1,"z":7.47},{"A":203,"C":1.1,"z":7.41},{"A":204,"C":1.1,"z":7.36},{"A":205,"C":1.1,"z":7.33},{"A":206,"C":1.1,"z":7.32},{"A":207,"C":1.1,"z":7.32},{"A":208,"C":1.1,"z":7.34},{"A":209,"C":1.1,"z":7.38},{"A":210,"C":1.1,"z":7.44},{"A":211,"C":1.1,"z":7.51},{"A":212,"C":1.1,"z":7.6},{"A":213,"C":1.1,"z":7.71},{"A":214,"C":1.1,"z":7.84},{"A":215,"C":1.1,"z":7.98},{"A":216,"C":1.1,"z":8.14},{"A":217,"C":1.1,"z":8.32},{"A":218,"C":1.1,"z":8.51},{"A":219,"C":1.1,"z":8.73},{"A":220,"C":1.1,"z":8.96},{"A":221,"C":1.1,"z":9.2},{"A":222,"C":1.1,"z":9.46},{"A":223,"C":1.1,"z":9.74},{"A":224,"C":1.1,"z":10.04},{"A":225,"C":1.1,"z":10.36},{"A":226,"C":1.1,"z":10.69},{"A":227,"C":1.1,"z":11.04},{"A":228,"C":1.1,"z":11.41},{"A":229,"C":1.1,"z":11.79},{"A":230,"C":1.1,"z":12.19},
{"A":190,"C":1,"z":9.48},{"A":191,"C":1,"z":9.22},{"A":192,"C":1,"z":8.97},{"A":193,"C":1,"z":8.74},{"A":194,"C":1,"z":8.53},{"A":195,"C":1,"z":8.33},{"A":196,"C":1,"z":8.16},{"A":197,"C":1,"z":8},{"A":198,"C":1,"z":7.85},{"A":199,"C":1,"z":7.73},{"A":200,"C":1,"z":7.62},{"A":201,"C":1,"z":7.53},{"A":202,"C":1,"z":7.45},{"A":203,"C":1,"z":7.4},{"A":204,"C":1,"z":7.36},{"A":205,"C":1,"z":7.33},{"A":206,"C":1,"z":7.33},{"A":207,"C":1,"z":7.34},{"A":208,"C":1,"z":7.37},{"A":209,"C":1,"z":7.42},{"A":210,"C":1,"z":7.48},{"A":211,"C":1,"z":7.56},{"A":212,"C":1,"z":7.66},{"A":213,"C":1,"z":7.78},{"A":214,"C":1,"z":7.91},{"A":215,"C":1,"z":8.06},{"A":216,"C":1,"z":8.23},{"A":217,"C":1,"z":8.41},{"A":218,"C":1,"z":8.61},{"A":219,"C":1,"z":8.83},{"A":220,"C":1,"z":9.07},{"A":221,"C":1,"z":9.32},{"A":222,"C":1,"z":9.59},{"A":223,"C":1,"z":9.88},{"A":224,"C":1,"z":10.19},{"A":225,"C":1,"z":10.51},{"A":226,"C":1,"z":10.85},{"A":227,"C":1,"z":11.21},{"A":228,"C":1,"z":11.58},{"A":229,"C":1,"z":11.97},{"A":230,"C":1,"z":12.38},
{"g":"c","id":"8","L":8,"n":1,"A":197,"C":1},{"g":"c","id":"8","L":8,"n":2,"A":197.7,"C":1.2},{"g":"c","id":"8","L":8,"n":3,"A":198.7,"C":1.4},{"g":"c","id":"8","L":8,"n":4,"A":199.9,"C":1.6},{"g":"c","id":"8","L":8,"n":5,"A":201.3,"C":1.8},{"g":"c","id":"8","L":8,"n":6,"A":203.1,"C":2},{"g":"c","id":"8","L":8,"n":7,"A":205.4,"C":2.2},{"g":"c","id":"8","L":8,"n":8,"A":206.9,"C":2.3},{"g":"c","id":"8","L":8,"n":9,"A":208.9,"C":2.4},{"g":"c","id":"8","L":8,"n":10,"A":210.5,"C":2.45},{"g":"c","id":"8","L":8,"n":11,"A":212,"C":2.466},{"g":"c","id":"8","L":8,"n":12,"A":213.3,"C":2.45},{"g":"c","id":"8","L":8,"n":13,"A":214.6,"C":2.4},{"g":"c","id":"8","L":8,"n":14,"A":215.7,"C":2.3},{"g":"c","id":"8","L":8,"n":15,"A":216.4,"C":2.2},{"g":"c","id":"8","L":8,"n":16,"A":217,"C":2},{"g":"c","id":"8","L":8,"n":17,"A":217.1,"C":1.8},{"g":"c","id":"8","L":8,"n":18,"A":216.8,"C":1.6},{"g":"c","id":"8","L":8,"n":19,"A":216.3,"C":1.4},{"g":"c","id":"8","L":8,"n":20,"A":215.6,"C":1.2},{"g":"c","id":"8","L":8,"n":21,"A":214.6,"C":1},
{"g":"c","id":"9l","L":9,"n":1,"A":191.9,"C":1},{"g":"c","id":"9l","L":9,"n":2,"A":192.6,"C":1.2},{"g":"c","id":"9l","L":9,"n":3,"A":193.6,"C":1.4},{"g":"c","id":"9l","L":9,"n":4,"A":194.6,"C":1.6},{"g":"c","id":"9l","L":9,"n":5,"A":195.8,"C":1.8},{"g":"c","id":"9l","L":9,"n":6,"A":197.2,"C":2},{"g":"c","id":"9l","L":9,"n":7,"A":198.8,"C":2.2},{"g":"c","id":"9l","L":9,"n":8,"A":200.6,"C":2.4},{"g":"c","id":"9l","L":9,"n":9,"A":202.7,"C":2.6},{"g":"c","id":"9l","L":9,"n":10,"A":205.2,"C":2.8},{"g":"c","id":"9l","L":9,"n":11,"A":208.4,"C":3},
{"g":"c","id":"9r","L":9,"n":1,"A":219.7,"C":1},{"g":"c","id":"9r","L":9,"n":2,"A":220.6,"C":1.2},{"g":"c","id":"9r","L":9,"n":3,"A":221.4,"C":1.4},{"g":"c","id":"9r","L":9,"n":4,"A":222,"C":1.6},{"g":"c","id":"9r","L":9,"n":5,"A":222.5,"C":1.8},{"g":"c","id":"9r","L":9,"n":6,"A":222.8,"C":2},{"g":"c","id":"9r","L":9,"n":7,"A":223,"C":2.2},{"g":"c","id":"9r","L":9,"n":8,"A":222.9,"C":2.4},{"g":"c","id":"9r","L":9,"n":9,"A":222.5,"C":2.6},{"g":"c","id":"9r","L":9,"n":10,"A":221.7,"C":2.8},{"g":"c","id":"9r","L":9,"n":11,"A":220.1,"C":3},
{"g":"c","id":"10l","L":10,"n":1,"A":190,"C":1.42},{"g":"c","id":"10l","L":10,"n":2,"A":190.9,"C":1.6},{"g":"c","id":"10l","L":10,"n":3,"A":192,"C":1.8},{"g":"c","id":"10l","L":10,"n":4,"A":193.3,"C":2},{"g":"c","id":"10l","L":10,"n":5,"A":194.7,"C":2.2},{"g":"c","id":"10l","L":10,"n":6,"A":196.2,"C":2.4},{"g":"c","id":"10l","L":10,"n":7,"A":197.9,"C":2.6},{"g":"c","id":"10l","L":10,"n":8,"A":199.8,"C":2.8},{"g":"c","id":"10l","L":10,"n":9,"A":202,"C":3},
{"g":"c","id":"10r","L":10,"n":1,"A":223.4,"C":1},{"g":"c","id":"10r","L":10,"n":2,"A":224.3,"C":1.2},{"g":"c","id":"10r","L":10,"n":3,"A":225.1,"C":1.4},{"g":"c","id":"10r","L":10,"n":4,"A":225.8,"C":1.6},{"g":"c","id":"10r","L":10,"n":5,"A":226.3,"C":1.8},{"g":"c","id":"10r","L":10,"n":6,"A":226.8,"C":2},{"g":"c","id":"10r","L":10,"n":7,"A":227.1,"C":2.2},{"g":"c","id":"10r","L":10,"n":8,"A":227.2,"C":2.4},{"g":"c","id":"10r","L":10,"n":9,"A":227.2,"C":2.6},{"g":"c","id":"10r","L":10,"n":10,"A":227,"C":2.8},{"g":"c","id":"10r","L":10,"n":11,"A":226.5,"C":3},
{"g":"c","id":"11l","L":11,"n":1,"A":190,"C":1.98},{"g":"c","id":"11l","L":11,"n":2,"A":191.4,"C":2.2},{"g":"c","id":"11l","L":11,"n":3,"A":192.9,"C":2.4},{"g":"c","id":"11l","L":11,"n":4,"A":194.4,"C":2.6},{"g":"c","id":"11l","L":11,"n":5,"A":196.1,"C":2.8},{"g":"c","id":"11l","L":11,"n":6,"A":197.9,"C":3},
{"g":"c","id":"11r","L":11,"n":1,"A":226.4,"C":1},{"g":"c","id":"11r","L":11,"n":2,"A":227.3,"C":1.2},{"g":"c","id":"11r","L":11,"n":3,"A":228.1,"C":1.4},{"g":"c","id":"11r","L":11,"n":4,"A":228.8,"C":1.6},{"g":"c","id":"11r","L":11,"n":5,"A":229.4,"C":1.8},{"g":"c","id":"11r","L":11,"n":6,"A":230,"C":2.04},
{"g":"c","id":"12l","L":12,"n":1,"A":190,"C":2.4},{"g":"c","id":"12l","L":12,"n":2,"A":191.4,"C":2.6},{"g":"c","id":"12l","L":12,"n":3,"A":193,"C":2.8},{"g":"c","id":"12l","L":12,"n":4,"A":194.7,"C":3},
{"g":"c","id":"12r","L":12,"n":1,"A":229.2,"C":1},{"g":"c","id":"12r","L":12,"n":2,"A":229.5,"C":1.1},{"g":"c","id":"12r","L":12,"n":3,"A":230,"C":1.2},
{"g":"c","id":"13l","L":13,"n":1,"A":190,"C":2.75},{"g":"c","id":"13l","L":13,"n":2,"A":190.4,"C":2.8},{"g":"c","id":"13l","L":13,"n":3,"A":191.1,"C":2.9},{"g":"c","id":"13l","L":13,"n":4,"A":191.9,"C":3},
{"g":"l","t":"13","A":190.9,"C":2.92},{"g":"l","t":"12","A":192.4,"C":2.76},{"g":"l","t":"11","A":193.5,"C":2.54},{"g":"l","t":"10","A":195,"C":2.29},{"g":"l","t":"9","A":198,"C":2.14},{"g":"l","t":"8","A":209.6,"C":2.46},{"g":"l","t":"9","A":222.8,"C":2.04},{"g":"l","t":"10","A":226.6,"C":1.99},{"g":"l","t":"11","A":228.4,"C":1.54},
{"g":"dot","A":190,"C":3,"z":16.85,"hi":1},{"g":"dot","A":230,"C":3,"z":12.03,"hi":1},{"g":"dot","A":210,"C":2,"z":8.17,"hi":1},{"g":"dot","A":190,"C":1,"z":8.9,"hi":0},{"g":"dot","A":230,"C":1,"z":9.93,"hi":0},
{"g":"y","n":1,"A":197.5,"C":0.996},{"g":"y","n":2,"A":229.5,"C":0.996},
{"g":"f","n":1,"A":190,"C":1,"z":-1.25},{"g":"f","n":2,"A":230,"C":1,"z":-1.25},{"g":"f","n":3,"A":230,"C":3,"z":-1.25},{"g":"f","n":4,"A":190,"C":3,"z":-1.25},{"g":"f","n":5,"A":190,"C":1,"z":-1.25},
{"g":"s","n":1,"A":210,"C":2,"z":8.17},{"g":"s","n":2,"A":210,"C":2,"z":7.59},
{"g":"w","id":"a5","n":1,"A":190,"C":3,"z":5},{"g":"w","id":"a5","n":2,"A":230,"C":3,"z":5},{"g":"w","id":"a5","n":3,"A":230,"C":1,"z":5},
{"g":"w","id":"a10","n":1,"A":190,"C":3,"z":10},{"g":"w","id":"a10","n":2,"A":230,"C":3,"z":10},{"g":"w","id":"a10","n":3,"A":230,"C":1,"z":10},
{"g":"w","id":"a15","n":1,"A":190,"C":3,"z":15},{"g":"w","id":"a15","n":2,"A":230,"C":3,"z":15},{"g":"w","id":"a15","n":3,"A":230,"C":1,"z":15},
{"g":"w","id":"a20","n":1,"A":190,"C":3,"z":20},{"g":"w","id":"a20","n":2,"A":230,"C":3,"z":20},{"g":"w","id":"a20","n":3,"A":230,"C":1,"z":20},
{"g":"w","id":"a25","n":1,"A":190,"C":3,"z":25},{"g":"w","id":"a25","n":2,"A":230,"C":3,"z":25},{"g":"w","id":"a25","n":3,"A":230,"C":1,"z":25},
{"g":"w","id":"v1","n":1,"A":190,"C":3,"z":-1.25},{"g":"w","id":"v1","n":2,"A":190,"C":3,"z":25},
{"g":"w","id":"v2","n":1,"A":209,"C":3,"z":5},{"g":"w","id":"v2","n":2,"A":209,"C":3,"z":25},
{"g":"w","id":"v3","n":1,"A":230,"C":3,"z":-1.25},{"g":"w","id":"v3","n":2,"A":230,"C":3,"z":25},
{"g":"w","id":"v4","n":1,"A":230,"C":1.9,"z":5},{"g":"w","id":"v4","n":2,"A":230,"C":1.9,"z":25},
{"g":"w","id":"v5","n":1,"A":230,"C":1,"z":-1.25},{"g":"w","id":"v5","n":2,"A":230,"C":1,"z":25},
{"g":"tz","t":"5","A":190,"C":3,"z":5},{"g":"tz","t":"10","A":190,"C":3,"z":10},{"g":"tz","t":"15","A":190,"C":3,"z":15},{"g":"tz","t":"20","A":190,"C":3,"z":20},{"g":"tz","t":"25","A":190,"C":3,"z":25},
{"g":"tc","t":"1","A":190,"C":1,"z":-1.25},{"g":"tc","t":"2","A":190,"C":1.94,"z":-1.25},{"g":"tc","t":"3","A":190,"C":3,"z":-1.25},
{"g":"ta","t":"190","A":190,"C":1,"z":-1.25},{"g":"ta","t":"210","A":208.7,"C":1,"z":-1.25},{"g":"ta","t":"230","A":230,"C":1,"z":-1.25}
]},
"data":{"name":"d"},
"hconcat":[
{"width":2020,"height":1517,
"transform":[
{"calculate":"isValid(datum.z)?datum.z+1.25:0","as":"hh"},
{"calculate":"1+0.135*(datum.A-190)/40+0.1323*(datum.C-1)/2","as":"W"},
{"calculate":"(919*(datum.A-190)/40-647*(datum.C-1)/2+1020.7)/datum.W","as":"xf"},
{"calculate":"datum.xf+(datum.xf-1020.5)*0.00236*datum.hh","as":"sx"},
{"calculate":"(-167.4*(datum.A-190)/40-171.3*(datum.C-1)/2+1568)/datum.W-40.9/datum.W*datum.hh","as":"sy"}
],
"encoding":{"x":{"field":"sx","type":"quantitative","scale":{"domain":[0,2020],"nice":false,"zero":false},"axis":null},"y":{"field":"sy","type":"quantitative","scale":{"domain":[1630,113],"nice":false,"zero":false},"axis":null}},
"layer":[
{"transform":[{"filter":"datum.g=='w'"}],"mark":{"type":"line","stroke":"black","strokeWidth":2.6},"encoding":{"detail":{"field":"id"},"order":{"field":"n"}}},
{"transform":[{"filter":"datum.g=='f'"}],"mark":{"type":"line","fill":"#808080","stroke":"black","strokeWidth":3.2},"encoding":{"order":{"field":"n"}}},
{"transform":[{"filter":"datum.g=='c'"}],"mark":{"type":"line","strokeWidth":2.5,"interpolate":"catmull-rom"},"encoding":{"detail":{"field":"id"},"order":{"field":"n"},"stroke":{"field":"L","type":"quantitative","legend":null,"scale":{"domain":[5.2,9.5,13.8],"range":["#0000ff","#00ffff","#00ff00"],"interpolate":"rgb"}}}},
{"transform":[
{"filter":"!datum.g&&datum.A%2==0"},
{"calculate":"[0,1,2,3,4]","as":"k"},{"flatten":["k"]},
{"calculate":"round((datum.A-190)/2)-((datum.k==1||datum.k==2)?1:0)","as":"qi"},
{"calculate":"round((datum.C-1)*10)-((datum.k==2||datum.k==3)?1:0)","as":"qj"},
{"filter":"datum.qi>=0&&datum.qi<20&&datum.qj>=0&&datum.qj<20"},
{"calculate":"datum.qi*100+datum.qj","as":"q"},
{"joinaggregate":[{"op":"mean","field":"z","as":"zm"}],"groupby":["q"]}
],"mark":{"type":"line","stroke":"black","strokeWidth":2.7},"encoding":{"detail":{"field":"q"},"order":{"field":"k"},"fill":{"field":"zm","type":"quantitative","legend":null,"scale":{"domain":[5.2,9.5,13.8],"range":["#0000ff","#00ffff","#00ff00"],"interpolate":"rgb"}}}},
{"transform":[{"filter":"datum.g=='s'"}],"mark":{"type":"line","stroke":"black","strokeWidth":2.6},"encoding":{"order":{"field":"n"}}},
{"transform":[{"filter":"datum.g=='tz'||datum.g=='tc'||datum.g=='ta'"}],"mark":{"type":"point","filled":true,"color":"black","size":110,"opacity":1}},
{"transform":[{"filter":"datum.g=='dot'&&datum.hi==1"}],"mark":{"type":"point","filled":true,"fill":"#b00000","stroke":"black","strokeWidth":3,"size":620,"opacity":1}},
{"transform":[{"filter":"datum.g=='dot'&&datum.hi==0"}],"mark":{"type":"point","filled":true,"fill":"#d98080","stroke":"black","strokeWidth":3,"size":620,"opacity":1}},
{"transform":[{"filter":"datum.g=='tz'"}],"mark":{"type":"text","fontSize":49,"align":"right","baseline":"middle","dx":-26,"dy":-24},"encoding":{"text":{"field":"t"}}},
{"transform":[{"filter":"datum.g=='tc'"}],"mark":{"type":"text","fontSize":49,"align":"center","baseline":"middle","dx":-38,"dy":27},"encoding":{"text":{"field":"t"}}},
{"transform":[{"filter":"datum.g=='ta'"}],"mark":{"type":"text","fontSize":49,"align":"center","baseline":"middle","dx":68,"dy":27},"encoding":{"text":{"field":"t"}}},
{"data":{"values":[{"t":"IFSS (MPa)"}]},"mark":{"type":"text","fontSize":66,"align":"center","baseline":"middle","angle":270},"encoding":{"x":{"value":69},"y":{"value":664},"text":{"field":"t"}}},
{"data":{"values":[{"t":"C: Number of Pins"}]},"mark":{"type":"text","fontSize":68,"align":"center","baseline":"middle"},"encoding":{"x":{"value":391},"y":{"value":1417},"text":{"field":"t"}}},
{"data":{"values":[{"t":"A: Melt temperature (C)"}]},"mark":{"type":"text","fontSize":66,"align":"center","baseline":"middle"},"encoding":{"x":{"value":1632},"y":{"value":1421},"text":{"field":"t"}}}
]},
{"width":1230,"height":1228,"view":{"stroke":"black","strokeWidth":3},
"title":{"text":"IFSS (MPa)","fontSize":72,"fontWeight":"normal","font":"Liberation Sans","anchor":"middle","offset":1},
"encoding":{"x":{"field":"A","type":"quantitative","scale":{"domain":[190,230],"nice":false,"zero":false},"axis":{"values":[190,210,230],"title":"A: Melt temperature (C)","titleFontSize":51,"titleFontWeight":"normal","labelFontSize":36,"labelFlush":false,"tickSize":34,"tickWidth":2,"tickColor":"black","domain":false,"grid":false,"labelPadding":22,"titlePadding":122,"labelColor":"black","titleColor":"black"}},
"y":{"field":"C","type":"quantitative","scale":{"domain":[1,3],"nice":false,"zero":false},"axis":{"values":[1,2,3],"format":"d","title":"C: Number of Pins","titleFontSize":51,"titleFontWeight":"normal","labelFontSize":36,"labelFlush":false,"tickSize":20,"tickWidth":2,"tickColor":"black","domain":false,"grid":false,"labelPadding":22,"titlePadding":135,"labelColor":"black","titleColor":"black"}}},
"layer":[
{"transform":[{"filter":"!datum.g"}],"mark":{"type":"rect","width":31.5,"height":62,"clip":true},"encoding":{"fill":{"field":"z","type":"quantitative","legend":null,"scale":{"domain":[5.2,9.5,13.8],"range":["#0000ff","#00ffff","#00ff00"],"interpolate":"rgb"}}}},
{"transform":[{"filter":"datum.g=='y'"}],"mark":{"type":"line","stroke":"#ffff00","strokeWidth":2.5},"encoding":{"order":{"field":"n"}}},
{"transform":[{"filter":"datum.g=='c'"}],"mark":{"type":"line","stroke":"black","strokeWidth":1.8,"interpolate":"catmull-rom"},"encoding":{"detail":{"field":"id"},"order":{"field":"n"}}},
{"transform":[{"filter":"datum.g=='l'&&length(datum.t)==2"}],"mark":{"type":"rect","width":56,"height":46,"fill":"white","stroke":"black","strokeWidth":2}},
{"transform":[{"filter":"datum.g=='l'&&length(datum.t)==1"}],"mark":{"type":"rect","width":36,"height":46,"fill":"white","stroke":"black","strokeWidth":2}},
{"transform":[{"filter":"datum.g=='l'"}],"mark":{"type":"text","fontSize":38,"baseline":"middle","align":"center","dy":1},"encoding":{"text":{"field":"t"}}},
{"transform":[{"filter":"datum.g=='dot'"}],"mark":{"type":"point","filled":true,"fill":"#b00000","stroke":"black","strokeWidth":2,"size":520,"opacity":1,"clip":false}},
{"data":{"values":[{"A":210,"C":2,"t":"3"}]},"mark":{"type":"text","fontSize":40,"align":"center","baseline":"middle","dx":-32,"dy":-3},"encoding":{"text":{"field":"t"}}}
]}
]}
